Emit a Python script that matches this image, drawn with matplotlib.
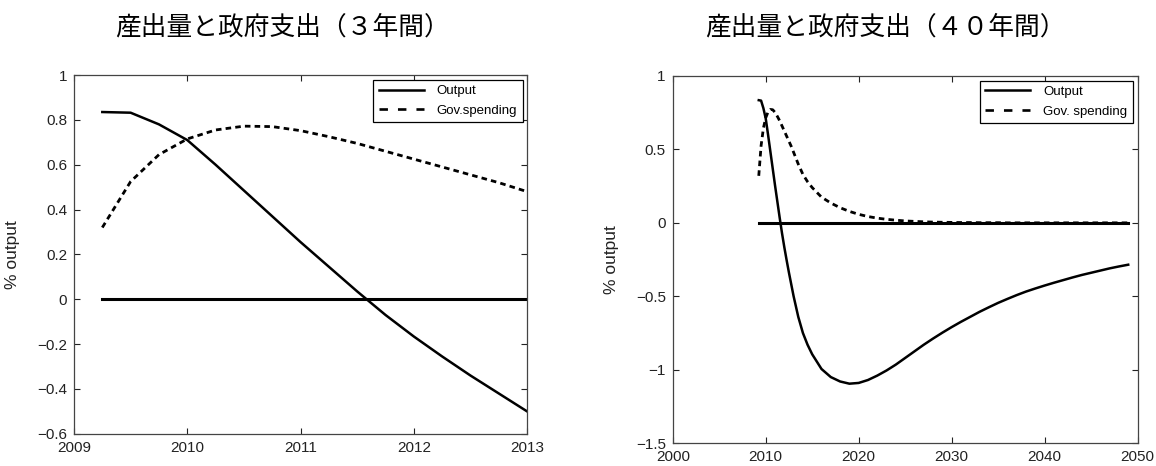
import matplotlib.pyplot as plt
from matplotlib.lines import Line2D

plt.rcParams['font.family'] = ['Liberation Sans', 'DejaVu Sans']
plt.rcParams['axes.unicode_minus'] = True

# 3年間（四半期）
years_3 = [2009.25, 2009.5, 2009.75, 2010.0, 2010.25, 2010.5, 2010.75, 2011.0,
           2011.25, 2011.5, 2011.75, 2012.0, 2012.25, 2012.5, 2012.75, 2013.0]
output_3 = [0.835, 0.832, 0.78, 0.71, 0.60, 0.485, 0.37, 0.255,
            0.145, 0.035, -0.07, -0.166, -0.255, -0.34, -0.42, -0.50]
gov_3 = [0.32, 0.525, 0.645, 0.715, 0.755, 0.772, 0.77, 0.752,
         0.725, 0.695, 0.66, 0.625, 0.59, 0.555, 0.52, 0.48]

# 40年間
years_40 = years_3 + [2013.5, 2014, 2014.5, 2015, 2016, 2017, 2018, 2019, 2020,
                      2021, 2022, 2023, 2024, 2025, 2026, 2027, 2028, 2029, 2030,
                      2031, 2032, 2033, 2034, 2035, 2036, 2037, 2038, 2039, 2040,
                      2041, 2042, 2043, 2044, 2045, 2046, 2047, 2048, 2049]
output_40 = output_3 + [-0.64, -0.75, -0.83, -0.895, -0.995, -1.05, -1.08, -1.095, -1.09,
                        -1.07, -1.04, -1.005, -0.965, -0.92, -0.875, -0.83, -0.788, -0.748, -0.71,
                        -0.674, -0.64, -0.606, -0.575, -0.545, -0.518, -0.492, -0.468, -0.447, -0.427,
                        -0.408, -0.39, -0.372, -0.355, -0.34, -0.325, -0.31, -0.297, -0.285]
gov_40 = gov_3 + [0.40, 0.33, 0.28, 0.24, 0.175, 0.135, 0.103, 0.078, 0.058,
                  0.043, 0.032, 0.024, 0.018, 0.013, 0.010, 0.007, 0.005, 0.004, 0.003,
                  0.002, 0.002, 0.001, 0.001, 0.001, 0.0, 0.0, 0.0, 0.0, 0.0,
                  0.0, 0.0, 0.0, 0.0, 0.0, 0.0, 0.0, 0.0, 0.0]

title_3 = '産出量と政府支出（３年間）'
title_40 = '産出量と政府支出（４０年間）'
ylabel = '% output'
legend_3 = ['Output', 'Gov.spending']
legend_40 = ['Output', 'Gov. spending']

xticks_3 = [2009, 2010, 2011, 2012, 2013]
yticks_3 = [-0.6, -0.4, -0.2, 0, 0.2, 0.4, 0.6, 0.8, 1]
yticklabels_3 = ['\u22120.6', '\u22120.4', '\u22120.2', '0', '0.2', '0.4', '0.6', '0.8', '1']
xticks_40 = [2000, 2010, 2020, 2030, 2040, 2050]
yticks_40 = [-1.5, -1, -0.5, 0, 0.5, 1]
yticklabels_40 = ['\u22121.5', '\u22121', '\u22120.5', '0', '0.5', '1']

fig = plt.figure(figsize=(11.56, 4.66), dpi=100)
ax1 = fig.add_axes([0.064, 0.069, 0.392, 0.770])
ax2 = fig.add_axes([0.582, 0.049, 0.402, 0.788])


def draw(ax, years, out, gov, labels, xticks, yticks, yticklabels, xlim, ylim, lab_x):
    ax.plot(years, [0] * len(years), color='black', lw=2.2)
    ax.plot(years, out, color='black', lw=1.8)
    ax.plot(years, gov, color='black', lw=2.0, dashes=(2.0, 1.5))
    ax.set_xlim(*xlim)
    ax.set_ylim(*ylim)
    ax.set_xticks(xticks)
    ax.set_xticklabels([str(t) for t in xticks])
    ax.set_yticks(yticks)
    ax.set_yticklabels(yticklabels)
    ax.tick_params(direction='in', top=True, right=True, length=4, width=0.8,
                   labelsize=11, colors='#222222', pad=5)
    for s in ax.spines.values():
        s.set_color('#444444')
        s.set_linewidth(0.9)
    ax.set_ylabel(ylabel, fontsize=12.5, color='#222222')
    ax.yaxis.set_label_coords(lab_x, 0.5)
    handles = [Line2D([], [], color='black', lw=1.8),
               Line2D([], [], color='black', lw=1.9, linestyle=(0, (3.2, 3.8)))]
    leg = ax.legend(handles, labels, loc='upper right', fontsize=9.5, fancybox=False,
                    framealpha=1, edgecolor='black', handlelength=3.4,
                    handletextpad=1.0, borderaxespad=0.35, labelspacing=0.55)
    leg.get_frame().set_linewidth(0.9)


draw(ax1, years_3, output_3, gov_3, legend_3, xticks_3, yticks_3, yticklabels_3,
     (2009, 2013), (-0.6, 1), -0.119)
draw(ax2, years_40, output_40, gov_40, legend_40, xticks_40, yticks_40, yticklabels_40,
     (2000, 2050), (-1.5, 1), -0.116)

fig.text(0.244, 0.942, title_3, ha='center', va='center', fontsize=18.5,
         family=['Noto Sans CJK JP', 'DejaVu Sans'])
fig.text(0.766, 0.942, title_40, ha='center', va='center', fontsize=18.5,
         family=['Noto Sans CJK JP', 'DejaVu Sans'])

fig.savefig('out.png', dpi=100)
